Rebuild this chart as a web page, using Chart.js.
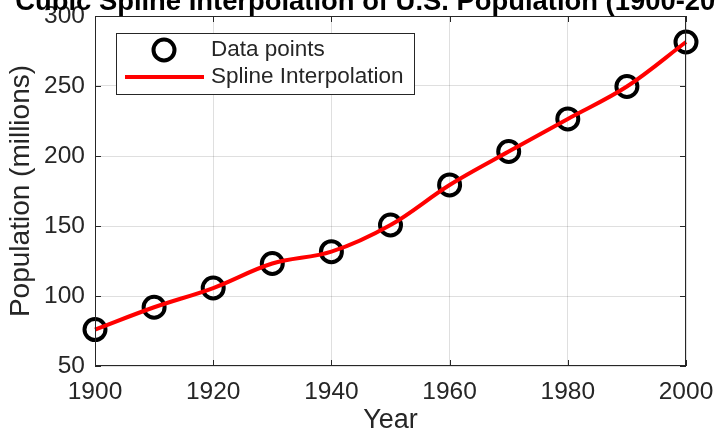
<!DOCTYPE html>
<html>
<head>
<meta charset="utf-8">
<script src="https://cdn.jsdelivr.net/npm/chart.js@4/dist/chart.umd.min.js"></script>
<style>
  body { margin: 0; background: #fff; }
  canvas { display: block; }
</style>
</head>
<body>
<canvas id="popChart" width="716" height="437"></canvas>
<script>
// census data (millions)
const years = [1900, 1910, 1920, 1930, 1940, 1950, 1960, 1970, 1980, 1990, 2000];
const population = [75.995, 91.972, 105.711, 123.203, 131.669, 150.697, 179.323, 203.212, 226.505, 249.633, 281.422];
const xTicks = [1900, 1920, 1940, 1960, 1980, 2000];
const yTicks = [50, 100, 150, 200, 250, 300];

const titleText = 'Cubic Spline Interpolation of U.S. Population (1900-2000)';
const ink = '#262626';
const fontFam = '"Liberation Sans", Arial, sans-serif';

// title (partly cut at top), box, inward ticks and the in-plot legend
const matlabLook = {
  id: 'matlabLook',
  afterDatasetsDraw(chart) {
    const ctx = chart.ctx;
    const a = chart.chartArea;
    const xs = chart.scales.x, ys = chart.scales.y;
    ctx.save();
    ctx.strokeStyle = ink;
    ctx.lineWidth = 1;
    ctx.strokeRect(a.left + 0.5, a.top + 0.5, a.right - a.left - 1, a.bottom - a.top - 1);
    ctx.beginPath();
    xTicks.forEach(v => {
      const px = Math.round(xs.getPixelForValue(v)) + 0.5;
      ctx.moveTo(px, a.bottom); ctx.lineTo(px, a.bottom - 6);
      ctx.moveTo(px, a.top); ctx.lineTo(px, a.top + 6);
    });
    yTicks.forEach(v => {
      const py = Math.round(ys.getPixelForValue(v)) + 0.5;
      ctx.moveTo(a.left, py); ctx.lineTo(a.left + 6, py);
      ctx.moveTo(a.right, py); ctx.lineTo(a.right - 6, py);
    });
    ctx.stroke();

    // legend
    const ds = chart.data.datasets;
    ctx.fillStyle = '#fff';
    ctx.fillRect(116, 33, 298, 61);
    ctx.strokeRect(116.5, 33.5, 298, 61);
    ctx.strokeStyle = '#000';
    ctx.lineWidth = 4;
    ctx.beginPath();
    ctx.arc(164, 50, 10.5, 0, Math.PI * 2);
    ctx.stroke();
    ctx.strokeStyle = ds[0].borderColor;
    ctx.beginPath();
    ctx.moveTo(125, 77); ctx.lineTo(204, 77);
    ctx.stroke();
    ctx.fillStyle = ink;
    ctx.font = '22.5px ' + fontFam;
    ctx.textBaseline = 'middle';
    ctx.textAlign = 'left';
    ctx.fillText(ds[1].label, 211, 50);
    ctx.fillText(ds[0].label, 211, 77);

    // title
    ctx.fillStyle = '#000';
    ctx.font = 'bold 27.4px ' + fontFam;
    ctx.textBaseline = 'alphabetic';
    ctx.textAlign = 'center';
    ctx.fillText(titleText, 385, 10);
    ctx.restore();
  }
};

const pts = years.map((y, i) => ({ x: y, y: population[i] }));

new Chart(document.getElementById('popChart'), {
  type: 'line',
  data: {
    datasets: [
      {
        label: 'Spline Interpolation',
        data: pts,
        borderColor: '#ff0000',
        borderWidth: 4,
        pointRadius: 0,
        tension: 0.35,
        fill: false,
        clip: false,
        order: 0
      },
      {
        label: 'Data points',
        data: pts,
        showLine: false,
        pointRadius: 10.5,
        pointBorderWidth: 4,
        pointBorderColor: '#000',
        pointBackgroundColor: 'rgba(0,0,0,0)',
        clip: false,
        order: 1
      }
    ]
  },
  options: {
    responsive: false,
    animation: false,
    layout: { padding: { top: 16, right: 30, left: 0, bottom: 0 } },
    plugins: {
      legend: { display: false },
      tooltip: { enabled: false }
    },
    scales: {
      x: {
        type: 'linear',
        min: 1900,
        max: 2000,
        afterFit(scale) { scale.height = 71; scale.paddingLeft = 0; scale.paddingRight = 0; },
        afterBuildTicks(scale) { scale.ticks = xTicks.map(v => ({ value: v })); },
        grid: { color: 'rgba(38,38,38,0.15)', drawTicks: false },
        border: { display: false },
        ticks: {
          color: ink,
          padding: 12,
          maxRotation: 0,
          callback: v => String(v),
          font: { family: fontFam, size: 24.5 }
        },
        title: {
          display: true,
          text: 'Year',
          color: ink,
          padding: { top: 0, bottom: 0 },
          font: { family: fontFam, size: 27 }
        }
      },
      y: {
        min: 50,
        max: 300,
        afterFit(scale) { scale.width = 95; scale.paddingTop = 0; scale.paddingBottom = 0; },
        afterBuildTicks(scale) { scale.ticks = yTicks.map(v => ({ value: v })); },
        grid: { color: 'rgba(38,38,38,0.15)', drawTicks: false },
        border: { display: false },
        ticks: {
          color: ink,
          padding: 10,
          callback: v => String(v),
          font: { family: fontFam, size: 24.5 }
        },
        title: {
          display: true,
          text: 'Population (millions)',
          color: ink,
          padding: { top: 4, bottom: 0 },
          font: { family: fontFam, size: 28 }
        }
      }
    }
  },
  plugins: [matlabLook]
});
</script>
</body>
</html>
